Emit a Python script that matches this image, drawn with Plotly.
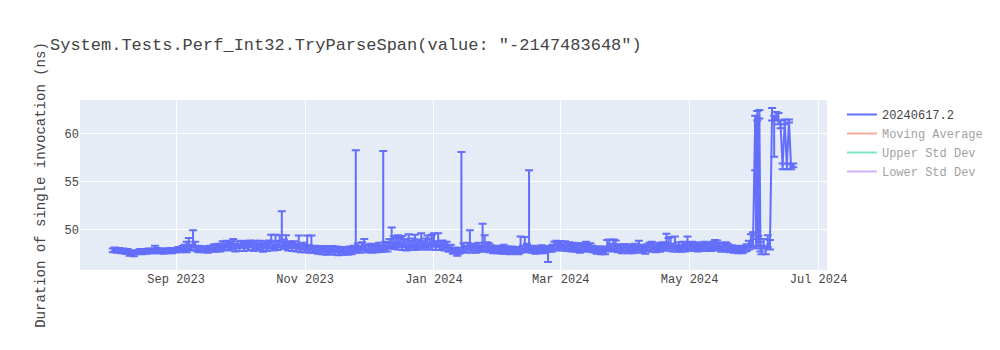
import plotly.graph_objects as go
import pandas as pd

# ---- data (daily samples, grouped by month) ----
# Each month: first day, values (ns), upper error, lower error
aug_start = "2023-08-02"
aug_vals = [47.8, 47.9, 47.75, 47.85, 47.7, 47.8, 47.65, 47.7, 47.5, 47.6, 47.45, 47.6, 47.65, 47.75, 47.6,
            47.75, 47.65, 47.8, 47.7, 47.8, 47.7, 47.85, 47.7, 47.8, 47.65, 47.8, 47.7, 47.85, 47.7, 47.8]
aug_up = [0.2, 0.2, 0.2, 0.2, 0.2, 0.2, 0.2, 0.25, 0.25, 0.2, 0.25, 0.2, 0.2, 0.2, 0.2,
          0.2, 0.2, 0.2, 0.2, 0.2, 0.6, 0.2, 0.2, 0.2, 0.2, 0.2, 0.2, 0.2, 0.2, 0.2]
aug_dn = [0.2, 0.2, 0.2, 0.2, 0.2, 0.2, 0.2, 0.25, 0.25, 0.2, 0.25, 0.2, 0.2, 0.2, 0.2,
          0.2, 0.2, 0.2, 0.2, 0.2, 0.2, 0.2, 0.2, 0.2, 0.2, 0.2, 0.2, 0.2, 0.2, 0.2]

sep_start = "2023-09-01"
sep_vals = [47.8, 47.95, 47.8, 48.0, 48.1, 47.9, 48.3, 48.1, 48.5, 48.2, 48.0, 47.85, 48.0, 47.8, 47.95,
            47.8, 48.05, 47.9, 48.15, 47.95, 48.2, 48.0, 48.4, 48.2, 48.5, 48.2, 48.4, 48.3, 48.1, 48.4]
sep_up = [0.2, 0.2, 0.2, 0.25, 0.3, 0.8, 0.8, 0.3, 1.4, 0.5, 0.3, 0.25, 0.25, 0.2, 0.2,
          0.25, 0.25, 0.2, 0.3, 0.3, 0.3, 0.3, 0.35, 0.35, 0.3, 0.4, 0.35, 0.7, 0.4, 0.35]
sep_dn = [0.2, 0.2, 0.2, 0.25, 0.3, 0.3, 0.35, 0.3, 0.4, 0.35, 0.3, 0.25, 0.25, 0.2, 0.2,
          0.25, 0.25, 0.2, 0.3, 0.3, 0.3, 0.3, 0.35, 0.35, 0.35, 0.4, 0.35, 0.4, 0.4, 0.35]

oct_start = "2023-10-01"
oct_vals = [48.1, 48.45, 48.15, 48.4, 48.2, 48.5, 48.25, 48.1, 48.4, 48.2, 48.45, 48.05, 48.35, 48.15, 48.4,
            48.5, 48.2, 48.45, 48.3, 48.6, 48.7, 48.35, 48.5, 48.2, 48.4, 48.15, 48.4, 48.1, 48.35, 48.0, 48.25]
oct_up = [0.35, 0.35, 0.4, 0.35, 0.4, 0.35, 0.4, 0.35, 0.4, 0.35, 0.35, 0.4, 0.35, 0.4, 0.45,
          0.95, 0.5, 1.0, 0.5, 0.8, 3.2, 0.6, 0.9, 0.4, 0.35, 0.4, 0.35, 0.4, 1.0, 0.4, 0.35]
oct_dn = [0.35, 0.35, 0.4, 0.35, 0.4, 0.35, 0.4, 0.35, 0.4, 0.35, 0.35, 0.4, 0.35, 0.4, 0.4,
          0.4, 0.4, 0.45, 0.45, 0.45, 0.45, 0.4, 0.4, 0.4, 0.35, 0.4, 0.35, 0.4, 0.4, 0.4, 0.35]

nov_start = "2023-11-01"
nov_vals = [48.0, 48.25, 47.95, 48.15, 47.9, 48.0, 47.8, 47.95, 47.75, 47.95, 47.7, 47.9, 47.75, 47.95, 47.7,
            47.9, 47.65, 47.85, 47.7, 47.8, 47.7, 47.9, 47.75, 48.0, 47.9, 48.15, 47.9, 48.25, 48.3, 48.0]
nov_up = [0.4, 1.1, 0.4, 1.2, 0.35, 0.3, 0.35, 0.3, 0.35, 0.3, 0.35, 0.3, 0.35, 0.3, 0.35,
          0.3, 0.35, 0.3, 0.35, 0.3, 0.35, 0.3, 0.35, 0.3, 10.4, 0.4, 0.35, 0.4, 0.7, 0.4]
nov_dn = [0.4, 0.4, 0.4, 0.35, 0.35, 0.3, 0.35, 0.3, 0.35, 0.3, 0.35, 0.3, 0.35, 0.3, 0.35,
          0.3, 0.35, 0.3, 0.35, 0.3, 0.35, 0.3, 0.35, 0.3, 0.35, 0.4, 0.35, 0.4, 0.4, 0.4]

dec_start = "2023-12-01"
dec_vals = [47.95, 48.15, 47.9, 48.1, 47.95, 48.2, 48.0, 48.1, 48.3, 48.15, 48.5, 48.7, 48.4, 48.6, 48.3,
            48.6, 48.3, 48.55, 48.25, 48.5, 48.3, 48.6, 48.25, 48.5, 48.3, 48.6, 48.3, 48.55, 48.35, 48.6, 48.35]
dec_up = [0.35, 0.35, 0.35, 0.35, 0.35, 0.4, 0.35, 10.1, 0.4, 0.45, 0.5, 1.5, 0.9, 0.5, 1.1,
          0.5, 1.0, 0.45, 0.5, 1.0, 0.5, 0.45, 1.2, 0.45, 0.5, 1.0, 0.45, 0.5, 1.0, 0.45, 1.1]
dec_dn = [0.35, 0.35, 0.35, 0.35, 0.35, 0.4, 0.35, 0.4, 0.4, 0.45, 0.45, 0.45, 0.45, 0.45, 0.4,
          0.45, 0.45, 0.4, 0.45, 0.45, 0.4, 0.45, 0.4, 0.45, 0.4, 0.45, 0.4, 0.45, 0.45, 0.4, 0.45]

jan_start = "2024-01-01"
jan_vals = [48.6, 48.3, 48.55, 48.3, 48.45, 48.2, 48.35, 48.0, 48.1, 47.75, 47.8, 47.55, 47.75, 48.0, 48.15,
            47.9, 48.2, 48.3, 47.95, 48.15, 47.9, 48.2, 48.0, 48.3, 48.1, 48.25, 47.95, 48.0, 47.8, 47.95, 47.8]
jan_up = [1.0, 0.45, 1.05, 0.45, 0.4, 0.4, 0.35, 0.35, 0.3, 0.3, 0.3, 0.3, 0.3, 10.1, 0.4,
          0.35, 0.4, 1.6, 0.4, 0.35, 0.35, 0.4, 0.35, 2.3, 1.3, 0.4, 0.6, 0.35, 0.3, 0.35, 0.3]
jan_dn = [0.4, 0.45, 0.4, 0.45, 0.4, 0.4, 0.35, 0.35, 0.3, 0.3, 0.3, 0.3, 0.3, 0.35, 0.4,
          0.35, 0.4, 0.4, 0.4, 0.35, 0.35, 0.4, 0.35, 0.4, 0.4, 0.4, 0.35, 0.35, 0.3, 0.35, 0.3]

feb_start = "2024-02-01"
feb_vals = [47.95, 47.75, 47.9, 47.75, 47.9, 47.7, 47.9, 47.75, 47.85, 47.7, 47.85, 47.95, 48.0, 48.15, 48.2,
            47.9, 48.0, 47.75, 47.9, 47.8, 48.0, 47.8, 47.95, 47.75, 47.95, 48.05, 48.3, 48.4, 48.2]
feb_up = [0.3, 0.3, 0.5, 0.3, 0.3, 0.3, 0.3, 0.3, 0.3, 0.3, 1.4, 0.35, 1.2, 0.35, 8.0,
          0.35, 0.3, 0.3, 0.3, 0.3, 0.35, 0.3, 0.3, 0.3, 0.3, 0.35, 0.4, 0.4, 0.4]
feb_dn = [0.3, 0.3, 0.3, 0.3, 0.3, 0.3, 0.3, 0.3, 0.3, 0.3, 0.3, 0.35, 0.35, 0.35, 0.35,
          0.35, 0.3, 0.3, 0.3, 0.3, 0.35, 0.3, 0.3, 1.15, 0.3, 0.35, 0.4, 0.4, 0.4]

mar_start = "2024-03-01"
mar_vals = [48.4, 48.15, 48.35, 48.1, 48.3, 48.1, 48.25, 48.0, 48.2, 47.95, 48.2, 48.05, 48.3, 48.05, 48.2,
            47.95, 47.9, 47.75, 47.9, 47.7, 47.9, 47.75, 48.1, 48.35, 48.1, 48.35, 48.15, 47.95, 48.1, 47.85, 48.1]
mar_up = [0.35, 0.35, 0.4, 0.35, 0.35, 0.4, 0.35, 0.35, 0.35, 0.4, 0.35, 0.35, 0.4, 0.35, 0.35,
          0.35, 0.3, 0.3, 0.3, 0.3, 0.3, 0.35, 0.8, 0.6, 0.4, 0.6, 0.7, 0.35, 0.35, 0.35, 0.35]
mar_dn = [0.35, 0.35, 0.4, 0.35, 0.35, 0.4, 0.35, 0.35, 0.35, 0.4, 0.35, 0.35, 0.4, 0.35, 0.35,
          0.35, 0.3, 0.3, 0.3, 0.3, 0.3, 0.35, 0.35, 0.4, 0.4, 0.4, 0.4, 0.35, 0.35, 0.35, 0.35]

apr_start = "2024-04-01"
apr_vals = [48.1, 47.85, 48.05, 47.85, 48.15, 47.95, 48.2, 47.9, 48.05, 47.8, 48.1, 48.25, 48.0, 48.25, 47.95,
            48.15, 48.0, 48.3, 48.2, 48.45, 48.2, 48.4, 48.1, 48.35, 48.0, 48.25, 48.0, 48.3, 48.1, 48.35]
apr_up = [0.35, 0.35, 0.35, 0.35, 0.35, 0.35, 0.6, 0.35, 0.35, 0.35, 0.35, 0.35, 0.7, 0.35, 0.35,
          0.35, 0.35, 0.35, 0.4, 1.1, 0.9, 0.8, 0.4, 0.9, 0.35, 0.4, 0.35, 0.4, 0.4, 0.9]
apr_dn = [0.35, 0.35, 0.35, 0.35, 0.35, 0.35, 0.35, 0.35, 0.35, 0.35, 0.35, 0.35, 0.35, 0.35, 0.35,
          0.35, 0.35, 0.35, 0.4, 0.4, 0.4, 0.4, 0.4, 0.4, 0.35, 0.4, 0.35, 0.4, 0.4, 0.4]

may_start = "2024-05-01"
may_vals = [48.2, 48.35, 48.1, 48.3, 48.05, 48.2, 48.1, 48.35, 48.1, 48.25, 48.1, 48.35, 48.3, 48.15, 48.25,
            48.0, 48.2, 48.05, 48.15, 47.95, 48.05, 47.85, 47.95, 47.8, 48.0, 47.8, 47.95, 48.1, 48.3, 48.6, 48.8]
may_up = [0.35, 0.35, 0.35, 0.35, 0.35, 0.35, 0.35, 0.35, 0.35, 0.35, 0.35, 0.35, 0.6, 0.7, 0.35,
          0.35, 0.35, 0.6, 0.35, 0.35, 0.3, 0.3, 0.3, 0.3, 0.3, 0.3, 0.3, 0.35, 0.5, 0.9, 0.9]
may_dn = [0.35, 0.35, 0.35, 0.35, 0.35, 0.35, 0.35, 0.35, 0.35, 0.35, 0.35, 0.35, 0.35, 0.35, 0.35,
          0.35, 0.35, 0.35, 0.35, 0.35, 0.3, 0.3, 0.3, 0.3, 0.3, 0.3, 0.3, 0.35, 0.4, 0.5, 0.5]

# June 2024 (bimodal period, sampled twice a day in places)
jun_dates = ["2024-06-01 00:00", "2024-06-01 12:00", "2024-06-02 00:00", "2024-06-02 12:00", "2024-06-03 00:00",
             "2024-06-03 12:00", "2024-06-04", "2024-06-05", "2024-06-06", "2024-06-07", "2024-06-08",
             "2024-06-09", "2024-06-10", "2024-06-11", "2024-06-12", "2024-06-13", "2024-06-14",
             "2024-06-15", "2024-06-16", "2024-06-17", "2024-06-18", "2024-06-19"]
jun_vals = [61.3, 48.5, 61.8, 48.8, 62.0, 48.3, 47.9, 48.4, 47.8, 48.6, 48.4,
            62.0, 61.4, 61.8, 61.5, 61.0, 56.6, 61.3, 56.6, 61.4, 56.5, 56.7]
jun_up = [0.6, 0.5, 0.6, 0.5, 0.5, 0.4, 0.4, 0.6, 0.4, 0.8, 0.5,
          0.7, 0.5, 0.5, 0.7, 0.4, 0.3, 0.2, 0.3, 0.1, 0.3, 0.2]
jun_dn = [5.1, 0.5, 0.4, 0.6, 0.4, 0.6, 0.5, 0.4, 0.4, 0.5, 0.5,
          0.6, 3.8, 0.4, 0.5, 0.4, 0.3, 0.3, 0.3, 0.2, 0.2, 0.2]

series_name = "20240617.2"
hidden_series = ["Moving Average", "Upper Std Dev", "Lower Std Dev"]
title_text = 'System.Tests.Perf_Int32.TryParseSpan(value: "-2147483648")'
y_title = "Duration of single invocation (ns)"
x_range = ["2023-07-17 12:00", "2024-07-05"]
y_range = [45.75, 63.55]

# ---- assemble table from the monthly arrays ----
months = [
    (aug_start, aug_vals, aug_up, aug_dn), (sep_start, sep_vals, sep_up, sep_dn),
    (oct_start, oct_vals, oct_up, oct_dn), (nov_start, nov_vals, nov_up, nov_dn),
    (dec_start, dec_vals, dec_up, dec_dn), (jan_start, jan_vals, jan_up, jan_dn),
    (feb_start, feb_vals, feb_up, feb_dn), (mar_start, mar_vals, mar_up, mar_dn),
    (apr_start, apr_vals, apr_up, apr_dn), (may_start, may_vals, may_up, may_dn),
]
dates, durations_ns, err_plus, err_minus = [], [], [], []
for start, vals, up, dn in months:
    assert len(vals) == len(up) == len(dn)
    dates += [d.strftime("%Y-%m-%d") for d in pd.date_range(start, periods=len(vals), freq="D")]
    durations_ns += vals
    err_plus += up
    err_minus += dn
assert len(jun_dates) == len(jun_vals) == len(jun_up) == len(jun_dn)
dates += jun_dates
durations_ns += jun_vals
err_plus += jun_up
err_minus += jun_dn

font_family = "Courier New, Liberation Mono, monospace"

fig = go.Figure()
fig.add_trace(go.Scatter(
    x=dates, y=durations_ns, mode="lines", name=series_name,
    line=dict(color="#636efa", width=2),
    error_y=dict(type="data", symmetric=False, array=err_plus, arrayminus=err_minus,
                 color="#636efa", thickness=2, width=4),
))
hidden_colors = ["#EF553B", "#00cc96", "#ab63fa"]
for nm, col in zip(hidden_series, hidden_colors):
    fig.add_trace(go.Scatter(x=[dates[0]], y=[None], mode="lines", name=nm,
                             line=dict(color=col), visible="legendonly", showlegend=True))

fig.update_layout(
    width=1000, height=350,
    template="plotly",
    font=dict(family=font_family, size=12, color="#444"),
    title=dict(text=title_text, font=dict(family=font_family, size=17)),
    xaxis=dict(type="date", range=x_range, dtick="M2", tickformat="%b %Y"),
    yaxis=dict(title=dict(text=y_title), range=y_range, dtick=5),
    showlegend=True,
)

fig.write_html("out.html")
